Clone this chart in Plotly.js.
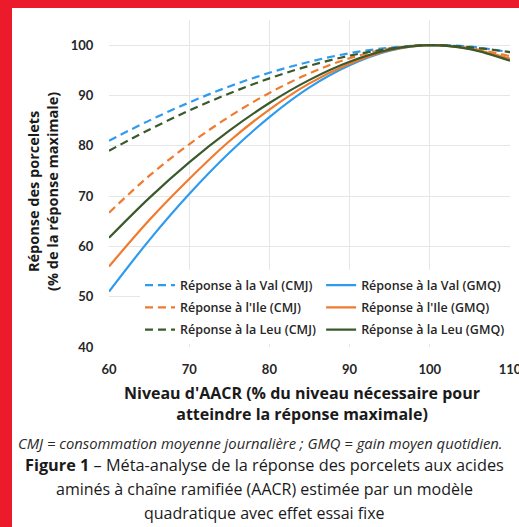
<!DOCTYPE html>
<html>
<head>
<meta charset="utf-8">
<script src="https://cdn.plot.ly/plotly-3.0.1.min.js"></script>
<style>
  html, body { margin: 0; padding: 0; width: 519px; height: 527px; background: #EC1B2B; overflow: hidden; }
  #chart { position: absolute; left: 12px; top: 8px; width: 507px; height: 519px; background: #fff; }
</style>
</head>
<body>
<div id="chart"></div>
<script>
// Niveau d'AACR (% du niveau nécessaire pour atteindre la réponse maximale)
var xLevels = [60, 65, 70, 75, 80, 85, 90, 95, 100, 105, 110];
// Réponse (% de la réponse maximale)
var valCMJ = [81.0, 85.0, 88.6, 91.8, 94.5, 96.7, 98.4, 99.5, 100, 99.7, 98.6];
var ileCMJ = [66.7, 74.0, 80.3, 85.8, 90.5, 94.4, 97.4, 99.3, 100, 99.4, 97.8];
var leuCMJ = [79.0, 83.2, 87.0, 90.4, 93.4, 95.9, 97.9, 99.3, 100, 99.6, 98.6];
var valGMQ = [51.0, 61.2, 70.4, 78.6, 85.7, 91.6, 96.0, 98.9, 100, 99.3, 97.0];
var ileGMQ = [56.0, 65.2, 73.4, 80.9, 87.2, 92.4, 96.3, 99.0, 100, 99.3, 97.3];
var leuGMQ = [61.7, 69.6, 76.7, 83.0, 88.5, 93.1, 96.7, 99.1, 100, 99.2, 96.9];
var seriesNames = [
  "Réponse à la Val (CMJ)", "Réponse à la Val (GMQ)",
  "Réponse à l'Ile (CMJ)", "Réponse à l'Ile (GMQ)",
  "Réponse à la Leu (CMJ)", "Réponse à la Leu (GMQ)"
];
var yTicks = [40, 50, 60, 70, 80, 90, 100];
var xTicks = [60, 70, 80, 90, 100, 110];

var BLUE = '#2F9BEF', ORANGE = '#F07A2E', GREEN = '#3A5A2C';
var DASH = '8px,5px';
function tr(name, y, color, dash, legendId, grp) {
  return { x: xLevels, y: y, name: name, type: 'scatter', mode: 'lines',
    legend: legendId, legendgroup: grp,
    line: { color: color, width: 2.2, dash: dash, shape: 'spline', smoothing: 1 } };
}
var data = [
  tr(seriesNames[0], valCMJ, BLUE, DASH, 'legend', 'a'),
  tr(seriesNames[1], valGMQ, BLUE, 'solid', 'legend2', 'b'),
  tr(seriesNames[2], ileCMJ, ORANGE, DASH, 'legend', 'c'),
  tr(seriesNames[3], ileGMQ, ORANGE, 'solid', 'legend2', 'd'),
  tr(seriesNames[4], leuCMJ, GREEN, DASH, 'legend', 'e'),
  tr(seriesNames[5], leuGMQ, GREEN, 'solid', 'legend2', 'f')
];

var FONT = '"Open Sans", Lato, sans-serif';
var LATO = 'Lato, "Open Sans", sans-serif';
var tickFont = { family: LATO, size: 13, color: '#262626', weight: 'bold' };
var legendFont = { family: FONT, size: 12.5, color: '#262626', weight: 600 };
function legendAt(xp) {
  return { orientation: 'v', x: xp, y: 0.234, xanchor: 'left', yanchor: 'top',
    bgcolor: '#ffffff', font: legendFont, itemwidth: 30,
    tracegroupgap: 3, traceorder: 'grouped' };
}
var layout = {
  width: 507, height: 519,
  margin: { l: 97, r: 9, t: 12, b: 180 },
  paper_bgcolor: '#ffffff', plot_bgcolor: '#ffffff',
  showlegend: true,
  legend: legendAt(0.0773),
  legend2: legendAt(0.529),
  xaxis: {
    range: [60, 110], tickvals: xTicks, showgrid: true, gridcolor: '#E6E6E6', gridwidth: 1,
    zeroline: false, showline: false, ticks: 'outside', ticklen: 10, tickcolor: 'rgba(0,0,0,0)',
    tickfont: tickFont, ticklabeloverflow: 'allow', fixedrange: true
  },
  yaxis: {
    range: [40, 105], tickvals: yTicks, showgrid: true, gridcolor: '#E6E6E6', gridwidth: 1,
    zeroline: false, showline: false, ticks: 'outside', ticklen: 12, tickcolor: 'rgba(0,0,0,0)',
    tickfont: tickFont, fixedrange: true
  },
  annotations: [
    { xref: 'paper', yref: 'paper', x: -0.1646, y: 0.477, xanchor: 'center', yanchor: 'middle',
      textangle: -90, showarrow: false, align: 'center',
      text: 'Réponse des porcelets<br>(% de la réponse maximale)',
      font: { family: FONT, size: 14.5, color: '#1a1a1a', weight: 'bold' } },
    { xref: 'paper', yref: 'paper', x: 0.481, y: -0.1743, xanchor: 'center', yanchor: 'middle',
      showarrow: false, align: 'center',
      text: "Niveau d'AACR (% du niveau nécessaire pour<br>atteindre la réponse maximale)",
      font: { family: FONT, size: 16, color: '#1a1a1a', weight: 'bold' } },
    { xref: 'paper', yref: 'paper', x: 0.3766, y: -0.2936, xanchor: 'center', yanchor: 'middle',
      showarrow: false,
      text: '<i>CMJ = consommation moyenne journalière ; GMQ = gain moyen quotidien.</i>',
      font: { family: FONT, size: 14.8, color: '#2a2a2a' } },
    { xref: 'paper', yref: 'paper', x: 0.389, y: -0.3609, xanchor: 'center', yanchor: 'middle',
      showarrow: false,
      text: '<b>Figure 1</b> – Méta-analyse de la réponse des porcelets aux acides',
      font: { family: FONT, size: 16.3, color: '#1a1a1a' } },
    { xref: 'paper', yref: 'paper', x: 0.389, y: -0.4343, xanchor: 'center', yanchor: 'middle',
      showarrow: false,
      text: 'aminés à chaîne ramifiée (AACR) estimée par un modèle',
      font: { family: FONT, size: 16, color: '#1a1a1a' } },
    { xref: 'paper', yref: 'paper', x: 0.389, y: -0.5077, xanchor: 'center', yanchor: 'middle',
      showarrow: false,
      text: 'quadratique avec effet essai fixe',
      font: { family: FONT, size: 16, color: '#1a1a1a' } }
  ]
};
Plotly.newPlot('chart', data, layout, { displayModeBar: false, staticPlot: true });
</script>
</body>
</html>
